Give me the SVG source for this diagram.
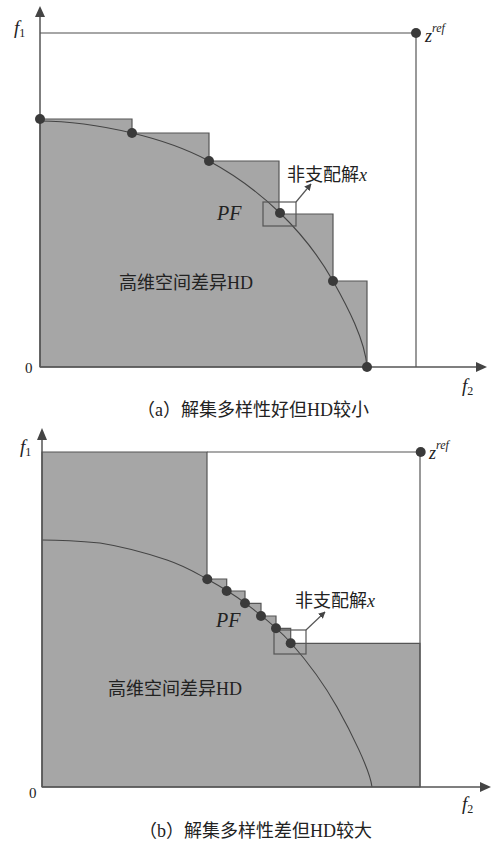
<svg xmlns="http://www.w3.org/2000/svg" width="497" height="845" viewBox="0 0 497 845">
<defs>
<style>
.t{font-family:"Liberation Serif","Noto Sans CJK SC",serif;fill:#222}
.cj{font-family:"Liberation Serif","Noto Sans CJK SC",serif;fill:#222;font-size:18px}
.it{font-style:italic}
.axis{stroke:#555;stroke-width:1.5;fill:none}
.ln{stroke:#555;stroke-width:1.2;fill:none}
.lt{stroke:#888;stroke-width:1.3;fill:none}
.area{fill:#a6a6a6;stroke:#555;stroke-width:1.2}
.pf{stroke:#444;stroke-width:1.1;fill:none}
.dot{fill:#3a3a3a}
.ah{fill:#444}
</style>
<marker id="arr" viewBox="0 0 10 10" refX="9" refY="5" markerWidth="7" markerHeight="7" orient="auto" markerUnits="userSpaceOnUse">
<path d="M0,0 L10,5 L0,10 z" fill="#444"/>
</marker>
</defs>
<rect width="497" height="845" fill="#fff"/>

<!-- Panel (a) -->
<g id="panel-a">
  <g id="a-area">
    <polygon class="area" points="40,367 40,119 132,119 132,133 209,133 209,161 279,161 279,214 333,214 333,281 367,281 367,367"/>
  </g>
  <g id="a-ref-box">
    <line class="lt" x1="40" y1="33" x2="416" y2="33"/>
    <line class="ln" x1="416" y1="33" x2="416" y2="367"/>
  </g>
  <g id="a-curve">
    <path class="pf" d="M40,121 C71,121 103.8,126.3 132,133 C160.2,139.7 184.3,147.7 209,161 C233.7,174.3 259.3,193 280,213 C300.7,233 318.5,255.3 333,281 C347.5,306.7 365,340 367,367"/>
  </g>
  <g id="a-box">
    <rect class="ln" x="263" y="202" width="33" height="24"/>
  </g>
  <g id="a-axes">
    <line class="axis" x1="40" y1="367" x2="40" y2="16"/>
    <path class="ah" d="M40,6 L35,17 L45,17 z"/>
    <line class="axis" x1="40" y1="367" x2="477" y2="367"/>
    <path class="ah" d="M487,367 L476,362 L476,372 z"/>
  </g>
  <g id="a-points">
    <circle class="dot" cx="40" cy="119" r="5"/>
    <circle class="dot" cx="132" cy="133" r="5"/>
    <circle class="dot" cx="209" cy="161" r="5"/>
    <circle class="dot" cx="280" cy="213" r="5"/>
    <circle class="dot" cx="333" cy="281" r="5"/>
    <circle class="dot" cx="367" cy="367" r="5"/>
    <circle class="dot" cx="416" cy="33" r="5"/>
  </g>
  <g id="a-connectors">
    <line class="ln" x1="296" y1="202" x2="311" y2="184" marker-end="url(#arr)"/>
  </g>
  <g id="a-labels">
    <text class="t it" x="14" y="34" font-size="19">f<tspan font-size="12" font-style="normal" dy="3">1</tspan></text>
    <text class="t" x="25" y="373" font-size="15">0</text>
    <text class="t it" x="462" y="392" font-size="19">f<tspan font-size="12" font-style="normal" dy="3">2</tspan></text>
    <text class="t it" x="425" y="42" font-size="18">z<tspan font-size="12" dy="-10">ref</tspan></text>
    <text class="t it" x="217" y="220" font-size="20">PF</text>
    <text class="cj" x="287" y="181">非支配解<tspan class="it">x</tspan></text>
    <text class="cj" x="119" y="289">高维空间差异HD</text>
    <text class="cj" x="137" y="416">（a）解集多样性好但HD较小</text>
  </g>
</g>

<!-- Panel (b) -->
<g id="panel-b">
  <g id="b-area">
    <polygon class="area" points="42,787 42,452 207,452 207,579 226.7,579 226.7,591 245,591 245,603.3 261,603.3 261,616 276,616 276,628.3 290.7,628.3 290.7,643.3 420,643.3 420,787"/>
  </g>
  <g id="b-ref-box">
    <line class="ln" x1="207" y1="452" x2="420" y2="452"/>
    <line class="ln" x1="420" y1="452" x2="420" y2="787"/>
  </g>
  <g id="b-curve">
    <path class="pf" d="M42,540 C61,540 79,541 100,543 C120.8,546.3 149.2,554 167,560 C184.8,566 194,571.8 207,579 C220,586.2 231,592.3 245,603 C259,613.7 275.7,625.7 291,643 C306.3,660.3 323.5,683 337,707 C350.5,731 370,770 372,787"/>
  </g>
  <g id="b-box">
    <rect class="ln" x="274" y="630" width="32" height="24"/>
  </g>
  <g id="b-axes">
    <line class="axis" x1="42" y1="787" x2="42" y2="438"/>
    <path class="ah" d="M42,428 L37,440 L47,440 z"/>
    <line class="axis" x1="42" y1="787" x2="481" y2="787"/>
    <path class="ah" d="M491,787 L480,782 L480,792 z"/>
  </g>
  <g id="b-points">
    <circle class="dot" cx="207.3" cy="579.3" r="5"/>
    <circle class="dot" cx="226.7" cy="591" r="5"/>
    <circle class="dot" cx="245" cy="603.3" r="5"/>
    <circle class="dot" cx="261" cy="616" r="5"/>
    <circle class="dot" cx="276" cy="628.3" r="5"/>
    <circle class="dot" cx="290.7" cy="643.3" r="5"/>
    <circle class="dot" cx="420.7" cy="452" r="5"/>
  </g>
  <g id="b-connectors">
    <line class="ln" x1="306" y1="630" x2="325" y2="612" marker-end="url(#arr)"/>
  </g>
  <g id="b-labels">
    <text class="t it" x="20" y="453" font-size="19">f<tspan font-size="12" font-style="normal" dy="3">1</tspan></text>
    <text class="t" x="29" y="798" font-size="15">0</text>
    <text class="t it" x="462" y="810" font-size="19">f<tspan font-size="12" font-style="normal" dy="3">2</tspan></text>
    <text class="t it" x="429" y="459" font-size="18">z<tspan font-size="12" dy="-10">ref</tspan></text>
    <text class="t it" x="216" y="627" font-size="20">PF</text>
    <text class="cj" x="295" y="607">非支配解<tspan class="it">x</tspan></text>
    <text class="cj" x="108" y="695">高维空间差异HD</text>
    <text class="cj" x="139" y="837">（b）解集多样性差但HD较大</text>
  </g>
</g>
</svg>
